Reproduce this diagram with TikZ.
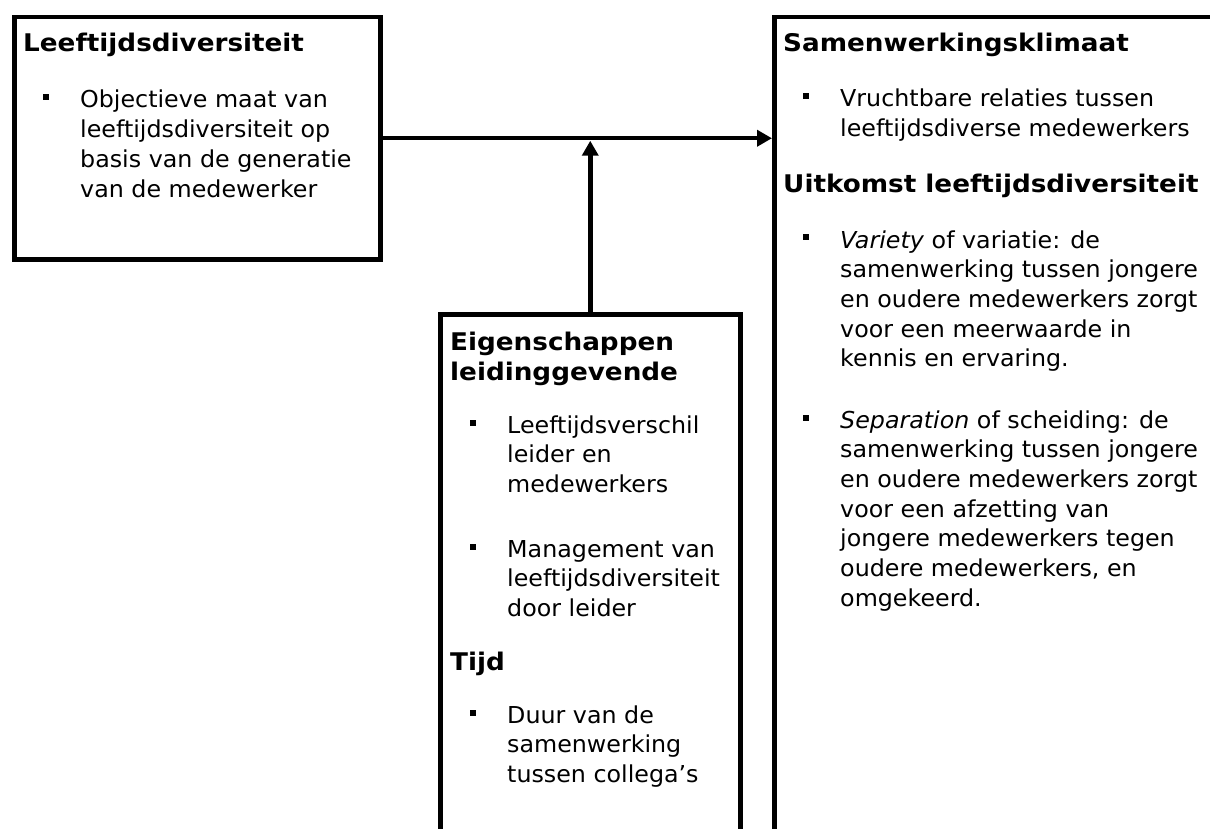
\documentclass[tikz,border=0pt]{standalone}
\usepackage{fontspec}
\setmainfont{DejaVu Sans}[FakeStretch=1.02]
\newfontfamily\kopfont{DejaVu Sans Bold}[FakeStretch=1.08]
\usetikzlibrary{arrows.meta}
\tikzset{kader/.style={draw, line width=4.5pt, anchor=north west, inner sep=0pt}}
\tikzset{kop/.style={anchor=base west, inner sep=0pt, align=left, font=\fontsize{24.3}{29.9}\selectfont\kopfont}}
\tikzset{punt/.style={anchor=base west, inner sep=0pt, align=left, font=\fontsize{23.3}{29.7}\selectfont}}
\tikzset{bolletje/.style={fill, inner sep=0pt, minimum size=6pt}}
\tikzset{pijl/.style={line width=4.5pt, -{Triangle[length=15pt,width=16pt]}}}

\begin{document}
\begin{tikzpicture}[x=1pt,y=-1pt]
  \useasboundingbox (0,0) rectangle (1210,829);
  \clip (0,0) rectangle (1210,829);
  \node[kader, minimum width=366pt, minimum height=242pt] (leeftijd) at (12,15) {};
  \node[kader, minimum width=480pt, minimum height=860pt] (klimaat) at (772,15) {};
  \node[kader, minimum width=300pt, minimum height=560pt] (leider) at (438,312) {};
  % koppen, y = basislijn van de laatste regel
  \foreach \naam/\x/\y/\tekst in {
    kop1/23/52/Leeftijdsdiversiteit,
    kop2/783/52/Samenwerkingsklimaat,
    kop3/783/193/Uitkomst leeftijdsdiversiteit,
    kop4/450/380/{Eigenschappen\\leidinggevende},
    kop5/450/670/Tijd%
  } {
    \node[kop] (\naam) at (\x, \y) {\tekst};
  }
  % opsommingen, y = basislijn van de eerste regel, \n = aantal regels
  \foreach \naam/\x/\y/\n/\tekst in {
    p1/80/108/4/{Objectieve maat van\\leeftijdsdiversiteit op\\basis van de generatie\\van de medewerker},
    p2/840/107/2/{Vruchtbare relaties tussen\\leeftijdsdiverse medewerkers},
    p3/840/248/5/{\emph{Variety} of variatie: de\\samenwerking tussen jongere\\en oudere medewerkers zorgt\\voor een meerwaarde in\\kennis en ervaring.},
    p4/840/428/7/{\emph{Separation} of scheiding: de\\samenwerking tussen jongere\\en oudere medewerkers zorgt\\voor een afzetting van\\jongere medewerkers tegen\\oudere medewerkers, en\\omgekeerd.},
    p5/507/433/3/{Leeftijdsverschil\\leider en\\medewerkers},
    p6/507/557/3/{Management van\\leeftijdsdiversiteit\\door leider},
    p7/507/723/3/{Duur van de\\samenwerking\\tussen collega’s}%
  } {
    \node[punt] (\naam) at (\x, {\y+(\n-1)*29.7}) {\tekst};
    \node[bolletje] (\naam-b) at ({\x-34}, {\y-10.5}) {};
  }
  \draw[pijl] (leeftijd.east) -- (leeftijd.east -| klimaat.west);
  \draw[pijl] (leider.north) -- ([yshift=-2.5pt]leider.north |- leeftijd.east);
\end{tikzpicture}
\end{document}
